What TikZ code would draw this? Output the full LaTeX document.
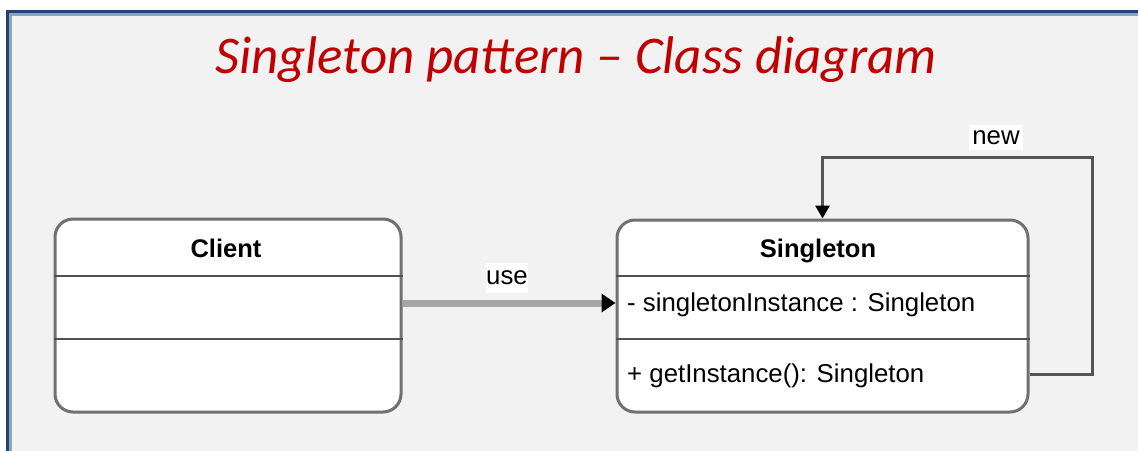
\documentclass[tikz,border=0pt]{standalone}
\usepackage{fontspec}
\setmainfont{Liberation Sans}
\newfontfamily\titlefont{Carlito}
\usetikzlibrary{arrows.meta}
\definecolor{framebg}{HTML}{F2F2F2}
\definecolor{framedark}{HTML}{1F4470}
\definecolor{framelight}{HTML}{8FA2BA}
\definecolor{titlered}{HTML}{C00000}
\definecolor{boxline}{HTML}{707070}
\definecolor{divline}{HTML}{505050}
\definecolor{useline}{HTML}{A6A6A6}
\definecolor{loopline}{HTML}{555555}
\tikzset{
  txt/.style={inner sep=0pt, font=\fontsize{25.8}{30}\selectfont, text=black},
  classbox/.style={draw=boxline, fill=white, line width=3pt, rounded corners=18pt, inner sep=0pt},
  divider/.style={draw=divline, line width=2.8pt},
  usearrow/.style={draw=useline, line width=7pt, -{Triangle[length=14pt,width=18pt,color=black,fill=black]}},
  looparrow/.style={draw=loopline, line width=3pt, -{Triangle[length=13pt,width=14pt,color=black,fill=black]}},
  lbl/.style={txt, fill=white, inner sep=0pt, minimum height=26pt}
}
\begin{document}
\begin{tikzpicture}[x=1pt,y=-1pt]
\useasboundingbox (0,0) rectangle (1138,450);
\clip (0,0) rectangle (1138,450);
\fill[white] (0,0) rectangle (1138,450);
\fill[framebg] (7,10) rectangle (1150,460);
\draw[framedark, line width=3pt] (7.5,460) -- (7.5,11.5) -- (1150,11.5);
\draw[framelight, line width=3pt] (10.5,460) -- (10.5,14.5) -- (1150,14.5);

\node[inner sep=0pt, anchor=base, text=titlered, font=\titlefont\itshape\fontsize{53}{60}\selectfont] (title) at (576,73) {Singleton pattern – Class diagram};

% Client class
\node[classbox, minimum width=346pt, minimum height=193pt] (client) at (228,315.5) {};
\node[txt, font=\fontsize{25.5}{30}\selectfont\bfseries, anchor=base] (clientname) at (226,257) {Client};
\draw[divider] (client.west |- 0,276) -- (client.east |- 0,276);
\draw[divider] (client.west |- 0,339) -- (client.east |- 0,339);

% Singleton class
\node[classbox, minimum width=411pt, minimum height=192pt] (singleton) at (822.5,316) {};
\node[txt, font=\fontsize{25.5}{30}\selectfont\bfseries, anchor=base] (singname) at (818,257) {Singleton};
\draw[divider] (singleton.west |- 0,276) -- (singleton.east |- 0,276);
\draw[divider] (singleton.west |- 0,339) -- (singleton.east |- 0,339);
\node[txt, anchor=base west] (attr) at (627,311) {- singletonInstance : Singleton};
\node[txt, anchor=base west] (meth) at (627,382) {+ getInstance(): Singleton};

% use association
\draw[usearrow] ([yshift=12.5pt]client.east) -- ([yshift=13pt]singleton.west);
\node[lbl, minimum width=42pt, minimum height=30pt] (uselbl) at (507,278) {use};

% new self-association
\coordinate (loopcorner) at (1092,157);
\draw[looparrow] ([yshift=-58pt]singleton.east) -| (loopcorner) -| (singleton.north);
\node[lbl, minimum width=54pt, minimum height=25pt] (newlbl) at (996,137.5) {new};
\end{tikzpicture}
\end{document}
